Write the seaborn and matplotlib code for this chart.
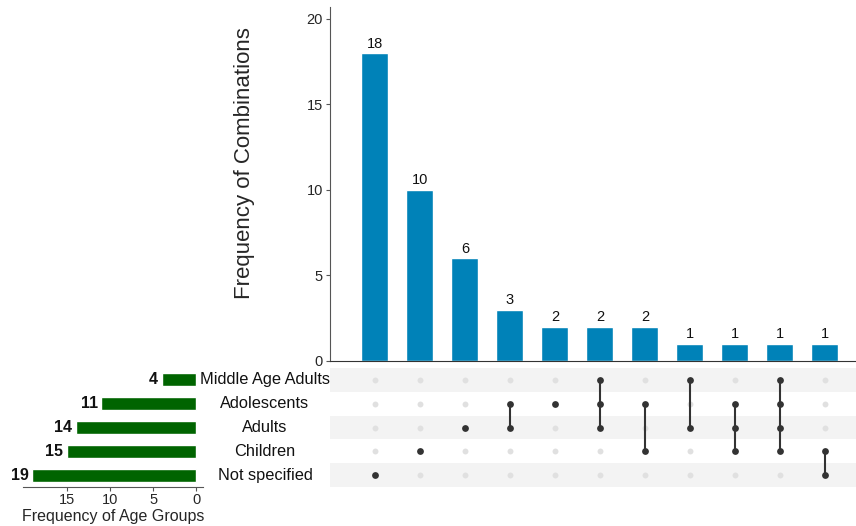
import matplotlib
matplotlib.use("Agg")
import matplotlib.pyplot as plt
import matplotlib.transforms as mtrans
import seaborn as sns
import pandas as pd
import numpy as np

sns.set_style("white")
plt.rcParams['font.family'] = ['Liberation Sans', 'DejaVu Sans']

# ---- data ----
groups = ["Middle Age Adults", "Adolescents", "Adults", "Children", "Not specified"]
group_sizes = [4, 11, 14, 15, 19]

combo_counts = [18, 10, 6, 3, 2, 2, 2, 1, 1, 1, 1]
combo_members = [
    ["Not specified"],
    ["Children"],
    ["Adults"],
    ["Adolescents", "Adults"],
    ["Adolescents"],
    ["Middle Age Adults", "Adolescents", "Adults"],
    ["Adolescents", "Children"],
    ["Middle Age Adults", "Adults"],
    ["Adolescents", "Adults", "Children"],
    ["Middle Age Adults", "Adolescents", "Adults", "Children"],
    ["Children", "Not specified"],
]
left_ticks = [15, 10, 5, 0]
top_ticks = [0, 5, 10, 15, 20]

BLUE = "#0082b8"
GREEN = "#006400"
DARK = "#333333"
LIGHT = "#e0e0e0"
STRIPE = "#f3f3f3"

W, H = 856, 526
fig = plt.figure(figsize=(W / 100, H / 100), dpi=100)

def box(x0, y0, x1, y1):
    return [x0 / W, 1 - y1 / H, (x1 - x0) / W, (y1 - y0) / H]

ax_top = fig.add_axes(box(330, 7, 856, 361))
ax_mat = fig.add_axes(box(330, 368, 856, 487))
ax_left = fig.add_axes(box(23, 368, 203, 487))

n = len(combo_counts)
xlim = (-1, n - 1 + 0.69)

# ---- top bars ----
df_top = pd.DataFrame({"combo": [str(i) for i in range(n)], "count": combo_counts})
sns.barplot(data=df_top, x="combo", y="count", order=[str(i) for i in range(n)],
            color=BLUE, saturation=1, width=0.6, ax=ax_top)
for i, c in enumerate(combo_counts):
    ax_top.text(i, c + 0.15, str(c), ha="center", va="bottom", fontsize=10.5, color="#111111")
ax_top.set_xlim(*xlim)
ax_top.set_ylim(0, 20.7)
ax_top.set_yticks(top_ticks)
ax_top.set_yticklabels([str(t) for t in top_ticks], fontsize=10.5)
ax_top.set_xticks([])
ax_top.set_xlabel("")
ax_top.set_ylabel("Frequency of Combinations", fontsize=16)
ax_top.yaxis.set_label_coords(-0.143, 0.56)
for s in ["top", "right"]:
    ax_top.spines[s].set_visible(False)
ax_top.spines["left"].set_color("#555555")
ax_top.spines["bottom"].set_color("#333333")
ax_top.tick_params(axis="y", direction="out", length=3, width=0.8, color="#555555", pad=2, left=True)

# ---- matrix ----
ax_mat.set_xlim(*xlim)
ax_mat.set_ylim(len(groups) - 0.5, -0.5)
for gi in range(len(groups)):
    if gi % 2 == 0:
        ax_mat.axhspan(gi - 0.5, gi + 0.5, color=STRIPE, zorder=0, lw=0)
rows = []
for ci, mem in enumerate(combo_members):
    for gi, g in enumerate(groups):
        rows.append({"x": ci, "y": gi, "on": g in mem})
df_mat = pd.DataFrame(rows)
sns.scatterplot(data=df_mat[~df_mat.on], x="x", y="y", color=LIGHT, s=18,
                linewidth=0, ax=ax_mat, zorder=2)
for ci, mem in enumerate(combo_members):
    ys = [groups.index(g) for g in mem]
    if len(ys) > 1:
        ax_mat.plot([ci, ci], [min(ys), max(ys)], color=DARK, lw=1.5, zorder=3)
sns.scatterplot(data=df_mat[df_mat.on], x="x", y="y", color=DARK, s=24,
                linewidth=0, ax=ax_mat, zorder=4)
ax_mat.set_ylim(len(groups) - 0.5, -0.5)
ax_mat.set_axis_off()

# ---- left bars ----
df_left = pd.DataFrame({"group": groups, "size": group_sizes})
sns.barplot(data=df_left, y="group", x="size", order=groups, orient="h",
            color=GREEN, saturation=1, width=0.55, ax=ax_left)
ax_left.set_xlim(20.1, -0.8)
ax_left.set_ylim(len(groups) - 0.5, -0.5)
for gi, v in enumerate(group_sizes):
    ax_left.text(v + 0.4, gi, str(v), ha="right", va="center", fontsize=11.5,
                 fontweight="bold", color="#111111")
ax_left.set_xticks(left_ticks)
ax_left.set_xticklabels([str(t) for t in left_ticks], fontsize=10.5)
ax_left.set_yticks([])
ax_left.set_ylabel("")
ax_left.set_xlabel("Frequency of Age Groups", fontsize=11.5, labelpad=2)
for s in ["top", "right", "left"]:
    ax_left.spines[s].set_visible(False)
ax_left.spines["bottom"].set_color("#555555")
ax_left.tick_params(axis="x", direction="out", length=3, width=0.8, color="#555555", pad=1, bottom=True)

# ---- row labels ----
tr = mtrans.blended_transform_factory(fig.transFigure, ax_mat.transData)
for gi, g in enumerate(groups):
    fig.text(265 / W, gi, g, transform=tr, ha="center", va="center", fontsize=11.8, color="#111111")

fig.savefig("out.png", dpi=100)
